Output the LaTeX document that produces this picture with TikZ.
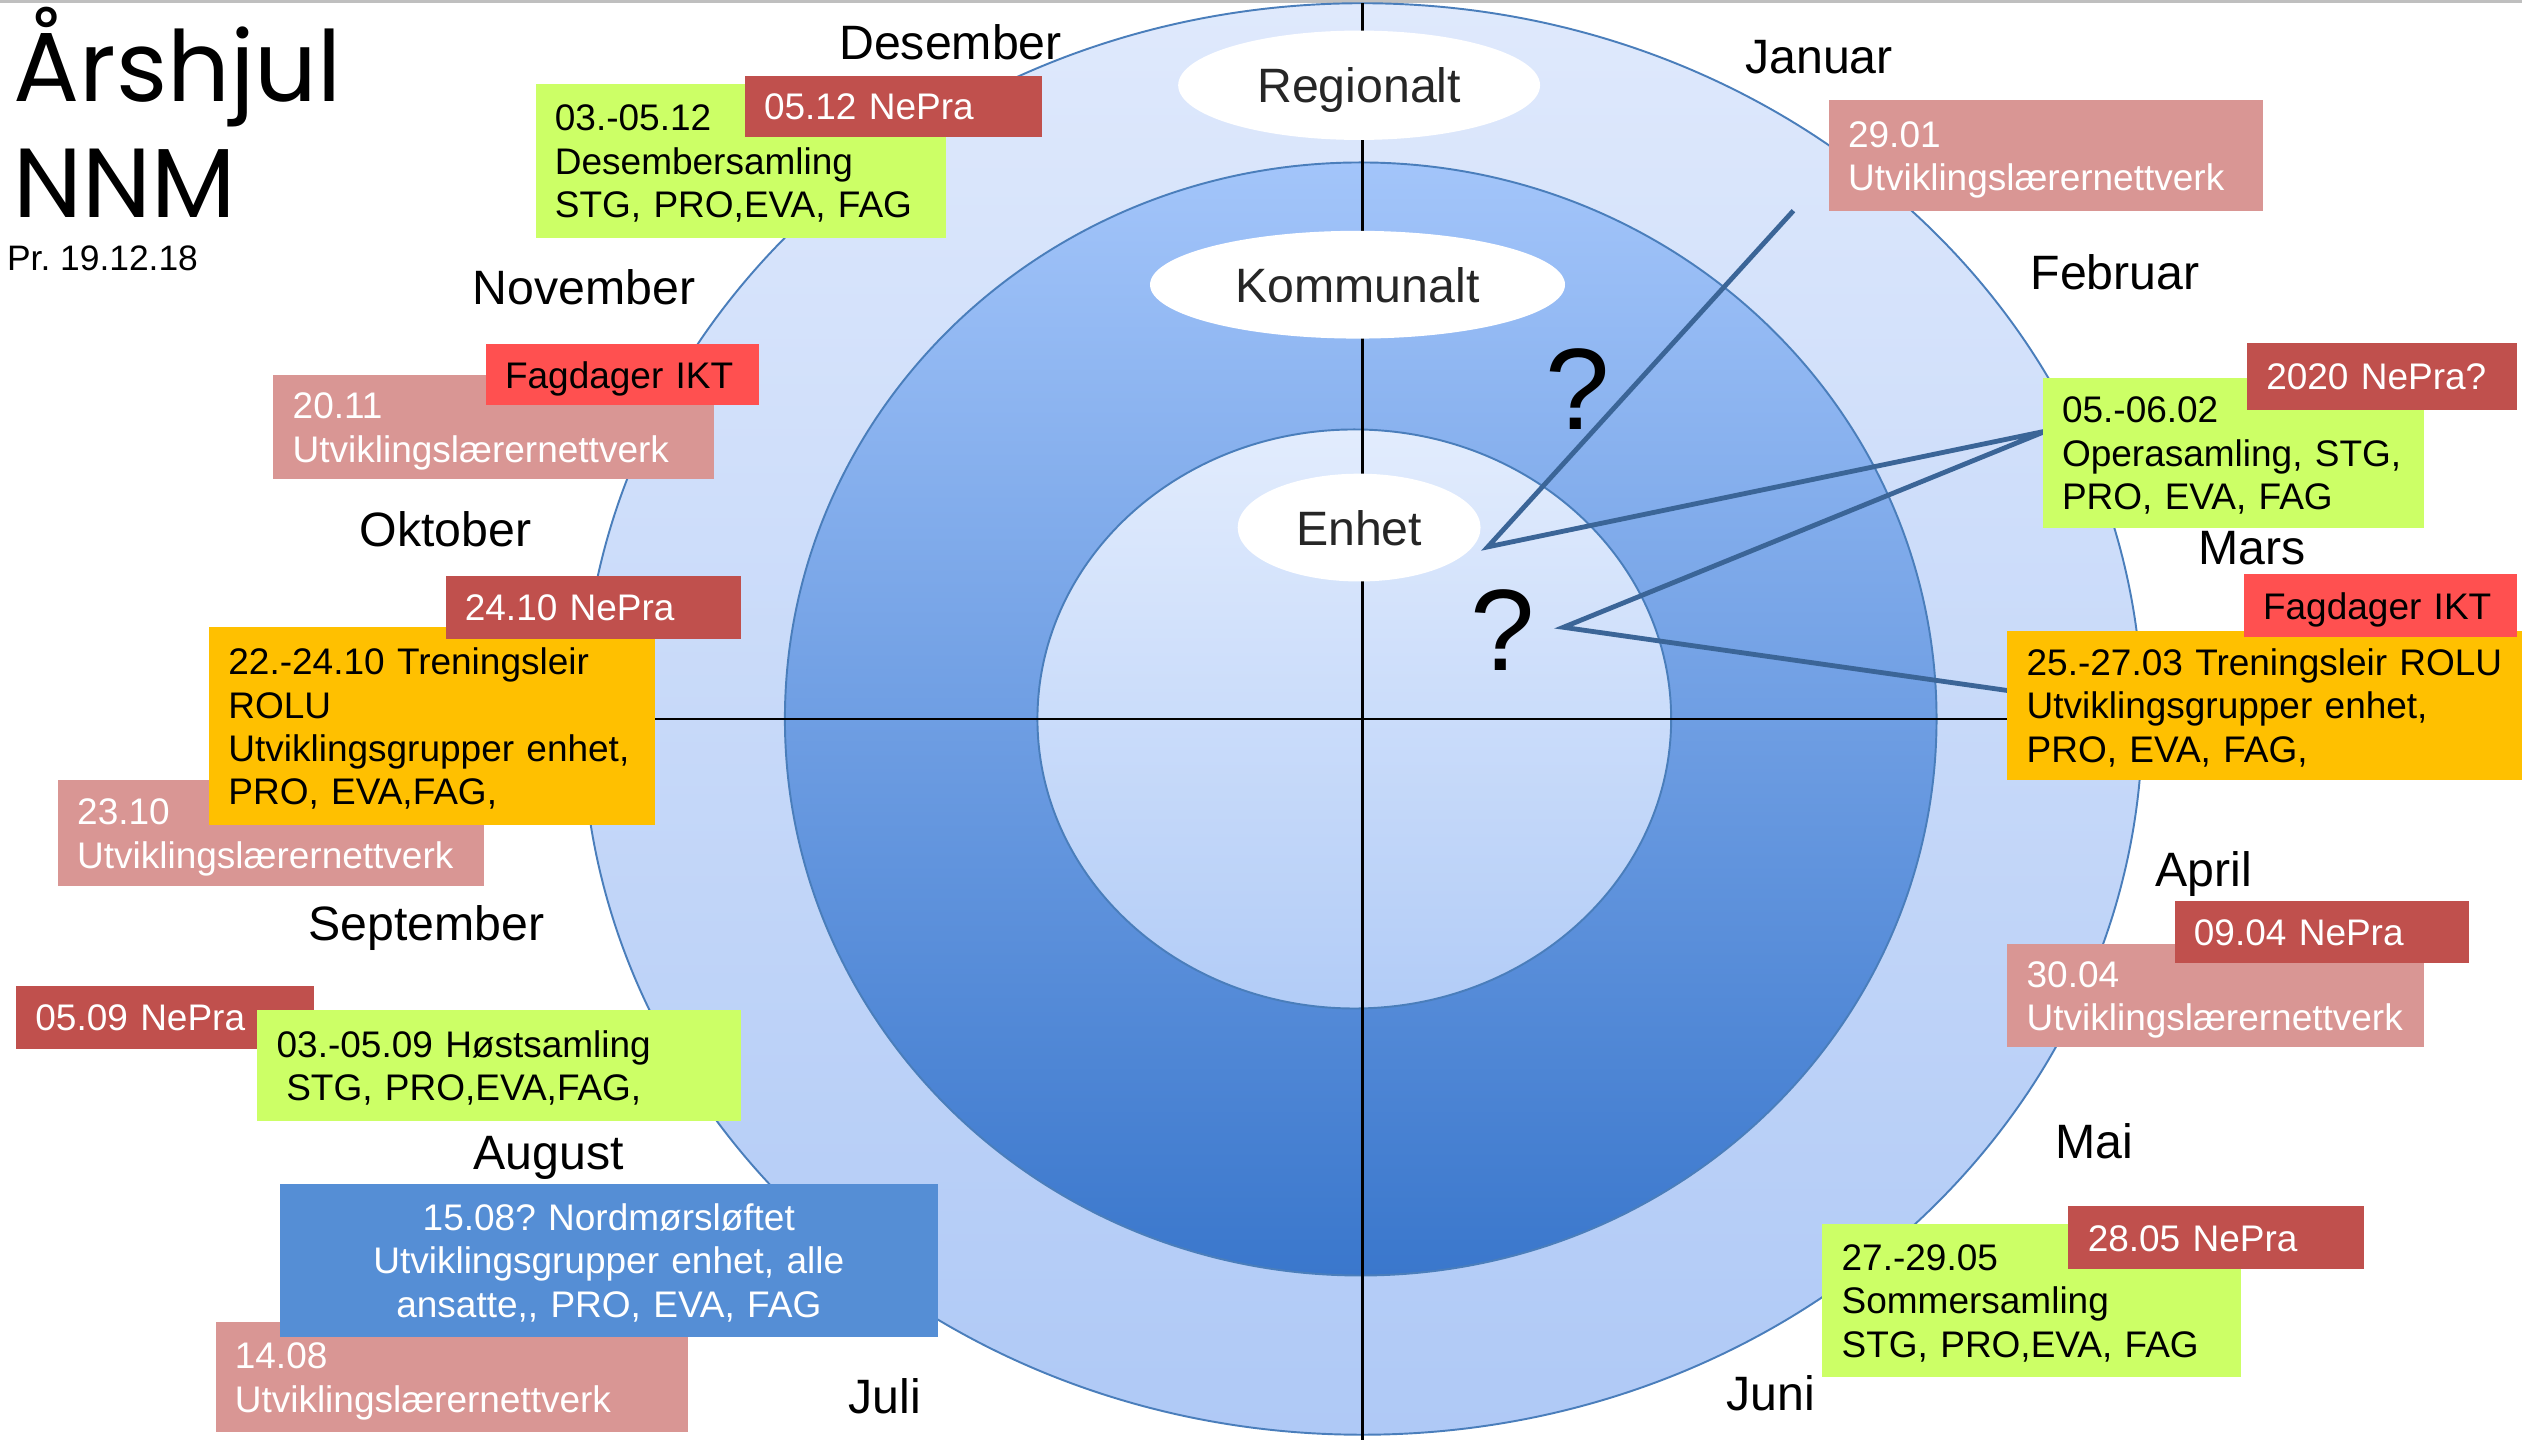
\documentclass[tikz,border=0pt]{standalone}
\usepackage{fontspec}
\setmainfont{Liberation Sans}
\newfontfamily\titlefont{Poppins}
\usetikzlibrary{shapes.geometric}
\frenchspacing
\definecolor{cgreen}{HTML}{CCFF66}
\definecolor{cdred}{HTML}{C0504D}
\definecolor{cpink}{HTML}{D99694}
\definecolor{cbred}{HTML}{FF5050}
\definecolor{corange}{HTML}{FFC000}
\definecolor{cblue}{HTML}{558ED5}
\definecolor{ringline}{HTML}{4A7EBB}
\definecolor{zigcol}{HTML}{3B6597}
\definecolor{outtop}{HTML}{DFE9FC}
\definecolor{outbot}{HTML}{AFC9F6}
\definecolor{midtop}{HTML}{A3C5FA}
\definecolor{midbot}{HTML}{3A77CC}
\definecolor{intop}{HTML}{E2ECFD}
\definecolor{inbot}{HTML}{B2CCF7}
\newcommand{\boxlines}[1]{\begin{tabular}{@{}l@{}}\rule{0pt}{12.45pt}#1\end{tabular}}
\newcommand{\boxlinesc}[1]{\begin{tabular}{@{}c@{}}\rule{0pt}{12.45pt}#1\end{tabular}}
\begin{document}
\begin{tikzpicture}[x=0.5pt,y=-0.5pt,
 evbox/.style={rectangle, inner xsep=6pt, inner ysep=0pt, align=left, font=\fontsize{11.5}{13.5}\selectfont},
 month/.style={anchor=base, inner sep=0pt, font=\fontsize{15}{18}\selectfont},
 lvl/.style={ellipse, fill=white, inner sep=0pt, text height=11pt, text depth=0pt, font=\fontsize{15}{18}\selectfont, text=black!85},
 ring/.style={draw=ringline, line width=0.6pt},
 cross/.style={draw=black, line width=0.9pt},
 zig/.style={draw=zigcol, line width=1.5pt},
 qmark/.style={inner sep=0pt, font=\fontsize{36}{36}\selectfont}]
\useasboundingbox (0,0) rectangle (1568,895);
\draw[black!25, line width=1pt] (0,1) -- (1568,1);
% rings
\path[ring, top color=outtop, bottom color=outbot] (847,447) ellipse [x radius=485, y radius=445];
\path[ring, top color=midtop, bottom color=midbot] (846,447) ellipse [x radius=358, y radius=346];
\path[ring, top color=intop, bottom color=inbot] (842,447) ellipse [x radius=197, y radius=180];
% cross
\coordinate (vt) at (847,2);
\coordinate (vb) at (847,895);
\coordinate (hl) at (362,447);
\coordinate (hr) at (1332,447);
\draw[cross] (vt) -- (vb);
\draw[cross] (hl) -- (hr);
% level labels
\node[lvl, minimum width=112.5pt, minimum height=34pt] (reg) at (845,53) {Regionalt};
\node[lvl, minimum width=129pt, minimum height=33.5pt] (kom) at (844,177) {Kommunalt};
\node[lvl, minimum width=75.5pt, minimum height=33.5pt] (enh) at (845,328) {Enhet};
% zigzag
\coordinate (z1) at (1115,131);
\coordinate (z2) at (925,340);
\coordinate (z3) at (1272,268);
\coordinate (z4) at (972,390);
\coordinate (z5) at (1253,430);
\draw[zig] (z1) -- (z2) -- (z3) -- (z4) -- (z5);
\node[qmark] (q1) at (981,242) {?};
\node[qmark] (q2) at (934,392) {?};
% months
\node[month] (mdes) at (591,37) {Desember};
\node[month] (mjan) at (1131,46) {Januar};
\node[month] (mfeb) at (1315,180) {Februar};
\node[month] (mmar) at (1400,351) {Mars};
\node[month] (mapr) at (1370,551) {April};
\node[month] (mmai) at (1302,720) {Mai};
\node[month] (mjun) at (1101,877) {Juni};
\node[month] (mjul) at (550,879) {Juli};
\node[month] (maug) at (341,727) {August};
\node[month] (msep) at (265,585) {September};
\node[month] (mokt) at (277,340) {Oktober};
\node[month] (mnov) at (363,189) {November};
% Desember
\node[evbox, fill=cgreen, text width=115.5pt, minimum height=48pt] (dec) at (460.5,100) {\boxlines{03.-05.12\\Desembersamling\\STG, PRO,EVA, FAG}};
\node[evbox, fill=cdred, text=white, text width=80.5pt, minimum height=19pt] (n0512) at (555.5,66) {\boxlines{05.12 NePra}};
% Januar
\node[evbox, fill=cpink, text=white, text width=123pt, minimum height=34.5pt] (u2901) at (1272,96.5) {\boxlines{29.01\\Utviklingslærernettverk}};
% Februar
\node[evbox, fill=cgreen, text width=106.5pt, minimum height=46.5pt] (feb) at (1388.5,281.5) {\boxlines{05.-06.02\\Operasamling, STG,\\PRO, EVA, FAG}};
\node[evbox, fill=cdred, text=white, text width=72pt, minimum height=21pt] (n2020) at (1481,234) {\boxlines{2020 NePra?}};
% Mars
\node[evbox, fill=corange, text width=148pt, minimum height=46.5pt] (mar) at (1408,438.5) {\boxlines{25.-27.03 Treningsleir ROLU\\Utviklingsgrupper enhet,\\PRO, EVA, FAG,}};
\node[evbox, fill=cbred, text width=73pt, minimum height=19.5pt] (fagR) at (1480,376.5) {\boxlines{Fagdager IKT}};
% April
\node[evbox, fill=cpink, text=white, text width=117.5pt, minimum height=32pt] (u3004) at (1377.5,619) {\boxlines{30.04\\Utviklingslærernettverk}};
\node[evbox, fill=cdred, text=white, text width=79.5pt, minimum height=19.5pt] (n0904) at (1443.5,579.5) {\boxlines{09.04 NePra}};
% Mai
\node[evbox, fill=cgreen, text width=118pt, minimum height=47.5pt] (mai) at (1263,808.5) {\boxlines{27.-29.05\\Sommersamling\\STG, PRO,EVA, FAG}};
\node[evbox, fill=cdred, text=white, text width=80pt, minimum height=19.5pt] (n2805) at (1378,769.5) {\boxlines{28.05 NePra}};
% August
\node[evbox, fill=cpink, text=white, text width=135pt, minimum height=34pt] (u1408) at (281,856) {\boxlines{14.08\\Utviklingslærernettverk}};
\node[evbox, fill=cblue, text=white, align=center, text width=192.5pt, minimum height=47.5pt] (aug) at (378.5,783.5) {\boxlinesc{15.08? Nordmørsløftet\\Utviklingsgrupper enhet, alle\\ansatte,\kern0pt, PRO, EVA, FAG}};
% September
\node[evbox, fill=cdred, text=white, text width=80.5pt, minimum height=19.5pt] (n0509) at (102.5,632.5) {\boxlines{05.09 NePra}};
\node[evbox, fill=cgreen, text width=138.5pt, minimum height=34.5pt] (sep) at (310.5,662.5) {\boxlinesc{03.-05.09 Høstsamling\\STG, PRO,EVA,FAG,}};
% Oktober
\node[evbox, fill=cpink, text=white, text width=120.5pt, minimum height=33pt] (u2310) at (168.5,518) {\boxlines{23.10\\Utviklingslærernettverk}};
\node[evbox, fill=corange, text width=126.5pt, minimum height=61.5pt] (okt) at (268.5,451.5) {\boxlines{22.-24.10 Treningsleir\\ROLU\\Utviklingsgrupper enhet,\\PRO, EVA,FAG,}};
\node[evbox, fill=cdred, text=white, text width=80pt, minimum height=19.5pt] (n2410) at (369,377.5) {\boxlines{24.10 NePra}};
% November
\node[evbox, fill=cpink, text=white, text width=125pt, minimum height=32.5pt] (u2011) at (307,265.5) {\boxlines{20.11\\Utviklingslærernettverk}};
\node[evbox, fill=cbred, text width=73pt, minimum height=19pt] (fagL) at (387,233) {\boxlines{Fagdager IKT}};
% title
\node[anchor=north west, inner sep=0pt, align=left, font=\titlefont\fontsize{30.5}{36}\selectfont] (title) at (8,4) {Årshjul\\NNM};
\node[anchor=base west, inner sep=0pt, font=\fontsize{11}{13}\selectfont] (pr) at (4,168) {Pr. 19.12.18};
\end{tikzpicture}
\end{document}
